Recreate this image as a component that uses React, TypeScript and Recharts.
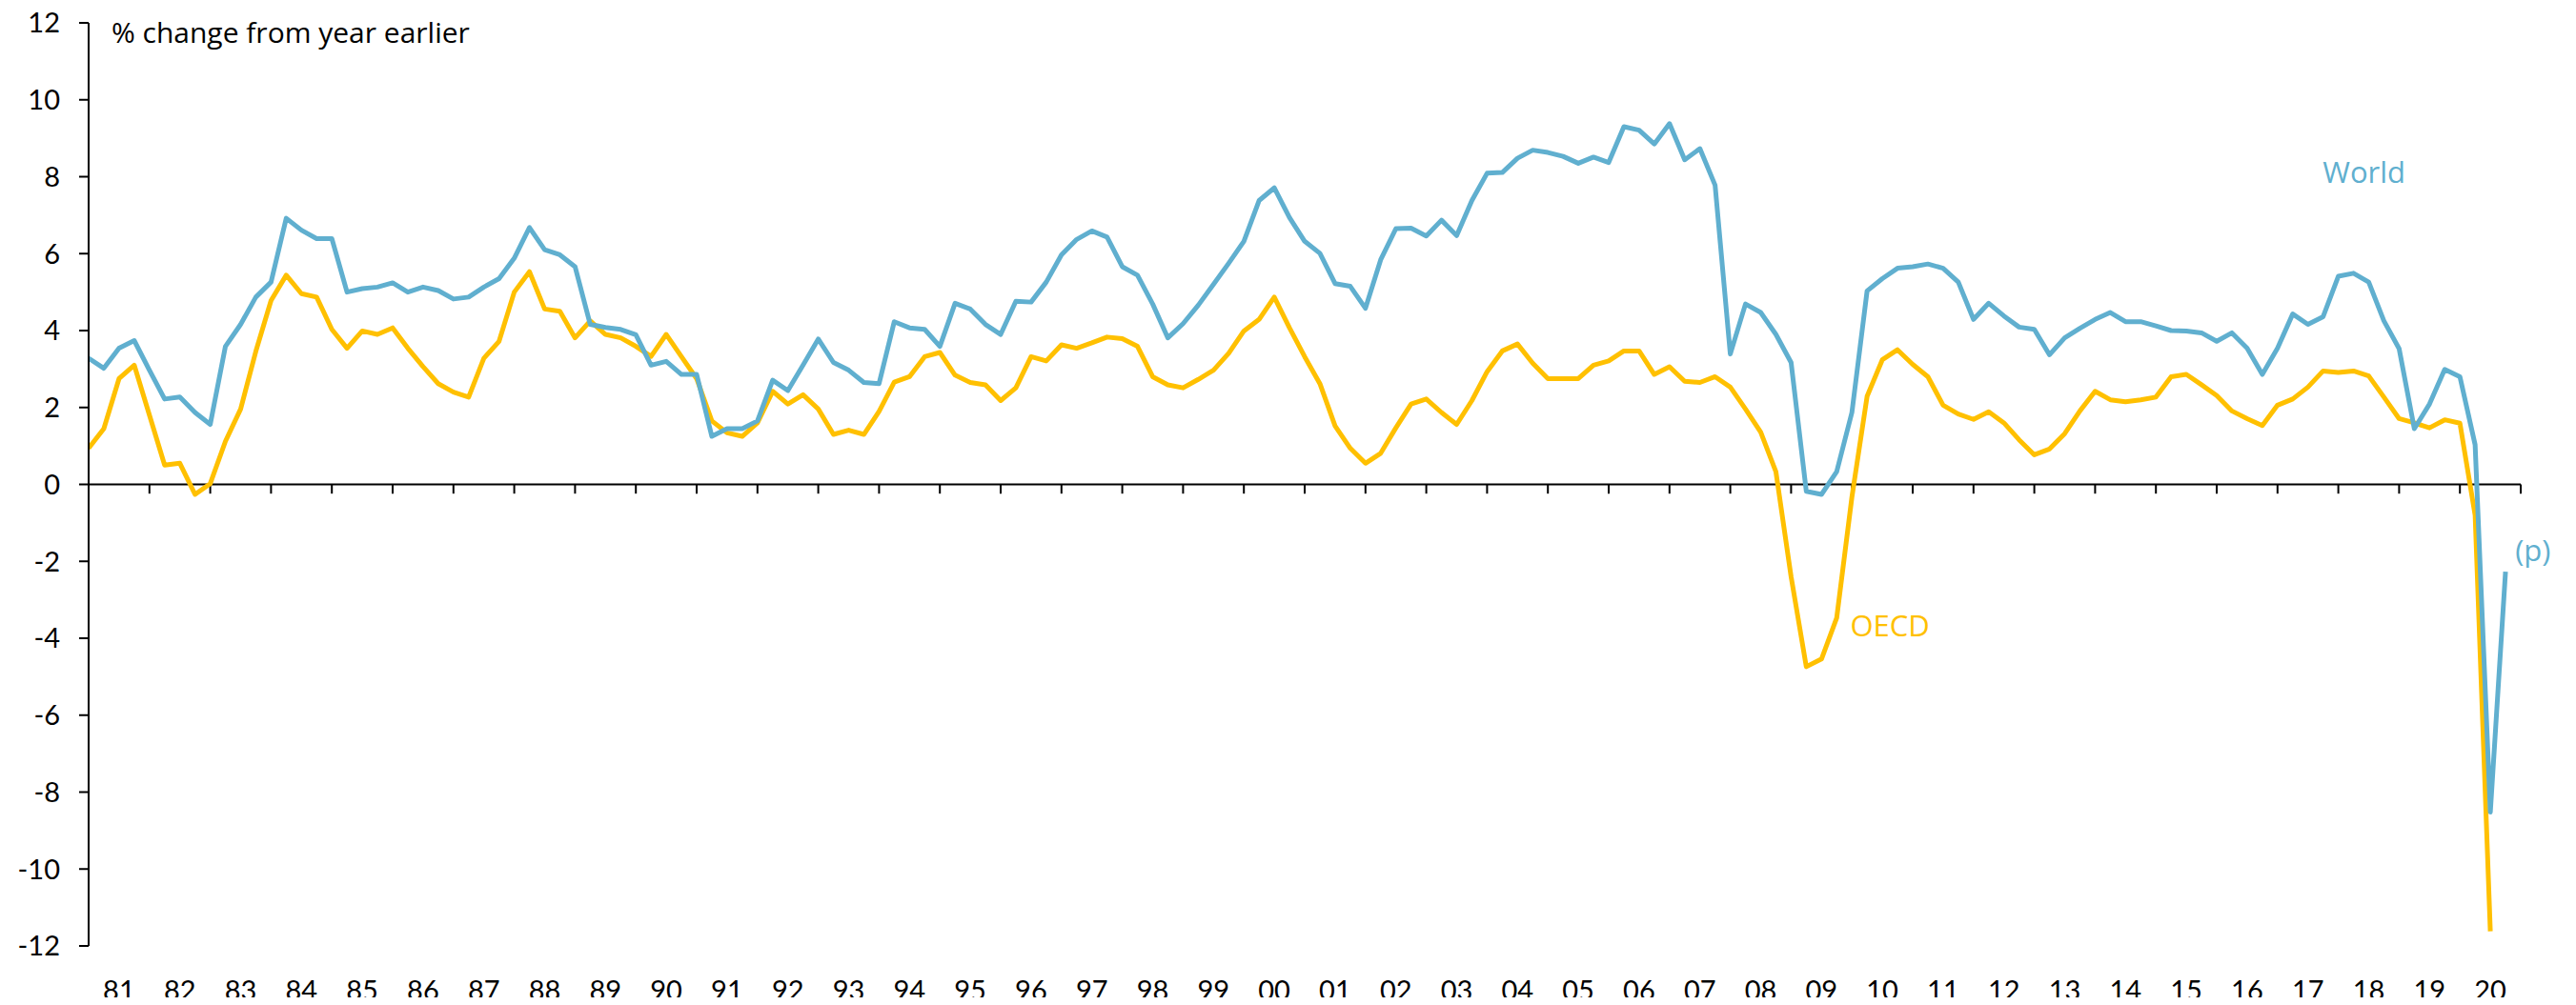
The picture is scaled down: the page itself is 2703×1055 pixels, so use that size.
import React from 'react';
import { LineChart, Line, XAxis, YAxis, ReferenceLine, ReferenceDot, Label } from 'recharts';

// Year labels (two-digit) for 1981 .. 2020
const yearLabels = [
  '81', '82', '83', '84', '85', '86', '87', '88', '89', '90',
  '91', '92', '93', '94', '95', '96', '97', '98', '99', '00',
  '01', '02', '03', '04', '05', '06', '07', '08', '09', '10',
  '11', '12', '13', '14', '15', '16', '17', '18', '19', '20',
];
const quarterNames = ['Q1', 'Q2', 'Q3', 'Q4'];

// World, % change from year earlier, quarterly from 1981Q1
const worldValues = [
  3.28, 3.02, 3.54, 3.74, 2.97, 2.22, 2.27, 1.87, 1.56, 3.59,
  4.16, 4.87, 5.26, 6.92, 6.61, 6.39, 6.39, 5.0, 5.09, 5.13,
  5.24, 5.0, 5.13, 5.04, 4.82, 4.87, 5.13, 5.35, 5.88, 6.68,
  6.1, 5.97, 5.66, 4.16, 4.08, 4.03, 3.89, 3.1, 3.2, 2.86,
  2.86, 1.25, 1.45, 1.45, 1.65, 2.71, 2.44, 3.1, 3.78, 3.17,
  2.97, 2.65, 2.62, 4.23, 4.07, 4.03, 3.59, 4.71, 4.56, 4.16,
  3.9, 4.76, 4.74, 5.26, 5.97, 6.37, 6.59, 6.43, 5.66, 5.44,
  4.69, 3.81, 4.18, 4.66, 5.2, 5.75, 6.32, 7.38, 7.71, 6.94,
  6.32, 6.01, 5.22, 5.15, 4.58, 5.84, 6.65, 6.66, 6.46, 6.87,
  6.47, 7.38, 8.09, 8.11, 8.48, 8.69, 8.63, 8.53, 8.35, 8.51,
  8.37, 9.3, 9.21, 8.85, 9.38, 8.44, 8.73, 7.78, 3.39, 4.69,
  4.47, 3.9, 3.17, -0.18, -0.26, 0.33, 1.87, 5.03, 5.35, 5.62,
  5.66, 5.73, 5.62, 5.26, 4.29, 4.71, 4.38, 4.09, 4.03, 3.37,
  3.81, 4.06, 4.29, 4.47, 4.23, 4.23, 4.12, 4.0, 3.99, 3.94,
  3.72, 3.94, 3.54, 2.86, 3.54, 4.43, 4.16, 4.36, 5.41, 5.49,
  5.26, 4.25, 3.53, 1.45, 2.09, 2.99, 2.8, 1.03, -8.52, -2.27,
];

// OECD, % change from year earlier, quarterly from 1981Q1
const oecdValues = [
  0.94, 1.45, 2.75, 3.1, 1.8, 0.5, 0.55, -0.26, 0.02, 1.12,
  1.96, 3.46, 4.78, 5.44, 4.96, 4.87, 4.03, 3.54, 3.99, 3.9,
  4.07, 3.54, 3.06, 2.62, 2.4, 2.27, 3.28, 3.72, 5.0, 5.53,
  4.56, 4.5, 3.81, 4.25, 3.9, 3.81, 3.59, 3.33, 3.9, 3.32,
  2.75, 1.65, 1.34, 1.25, 1.6, 2.42, 2.09, 2.33, 1.96, 1.3,
  1.41, 1.3, 1.9, 2.66, 2.8, 3.32, 3.43, 2.84, 2.65, 2.59,
  2.18, 2.51, 3.32, 3.21, 3.63, 3.54, 3.68, 3.83, 3.79, 3.59,
  2.8, 2.59, 2.51, 2.73, 2.97, 3.41, 3.99, 4.29, 4.87, 4.07,
  3.32, 2.62, 1.52, 0.94, 0.55, 0.81, 1.47, 2.09, 2.22, 1.87,
  1.56, 2.18, 2.93, 3.47, 3.65, 3.15, 2.75, 2.75, 2.75, 3.1,
  3.21, 3.47, 3.47, 2.86, 3.06, 2.68, 2.65, 2.8, 2.53, 1.96,
  1.36, 0.33, -2.4, -4.74, -4.54, -3.47, -0.33, 2.29, 3.24, 3.5,
  3.12, 2.8, 2.06, 1.83, 1.69, 1.89, 1.6, 1.16, 0.77, 0.92,
  1.32, 1.91, 2.42, 2.2, 2.15, 2.2, 2.27, 2.8, 2.86, 2.59,
  2.31, 1.91, 1.71, 1.53, 2.06, 2.22, 2.53, 2.95, 2.91, 2.95,
  2.82, 2.27, 1.71, 1.6, 1.47, 1.68, 1.59, -0.8, -11.62,
];

const yTicks = [-12, -10, -8, -6, -4, -2, 0, 2, 4, 6, 8, 10, 12];

const data = worldValues.map((w, i) => ({
  idx: i,
  quarter: `${yearLabels[Math.floor(i / 4)]}${quarterNames[i % 4]}`,
  world: w,
  oecd: i < oecdValues.length ? oecdValues[i] : null,
}));

const quartersPerYear = 4;
const yearBoundaries = yearLabels.map((_, k) => k * quartersPerYear).concat([yearLabels.length * quartersPerYear]);
const yearCentres = yearLabels.map((_, k) => k * quartersPerYear + quartersPerYear / 2);

const WORLD = '#60AFCF';
const OECD = '#FFC000';
const FONT = 'Lato, "Open Sans", sans-serif';
const LABEL_FONT = '"Open Sans", Lato, sans-serif';
const TICK_LEN = 0.24; // in value units

export default function App() {
  return (
    <div style={{ width: 2687, height: 1039 }}>
      <style>{'.recharts-surface{overflow:visible}'}</style>
      <LineChart
        width={2687}
        height={1039}
        data={data}
        margin={{ top: 16, right: 50, bottom: 0, left: 0 }}
      >
        <XAxis
          dataKey="idx"
          type="number"
          domain={[0, yearLabels.length * quartersPerYear]}
          ticks={yearCentres}
          tickFormatter={(v: number) => yearLabels[Math.round((v - 2) / 4)]}
          axisLine={false}
          tickLine={false}
          tickSize={0}
          tickMargin={36}
          height={54}
          interval={0}
          allowDataOverflow
          tick={{ fill: '#000', fontSize: 29, fontFamily: FONT }}
        />
        <YAxis
          domain={[-12, 12]}
          ticks={yTicks}
          interval={0}
          width={85}
          tickSize={10}
          tickMargin={20}
          allowDataOverflow
          axisLine={{ stroke: '#000', strokeWidth: 2 }}
          tickLine={{ stroke: '#000', strokeWidth: 2 }}
          tick={{ fill: '#000', fontSize: 29, fontFamily: FONT }}
        />
        <ReferenceLine y={0} stroke="#000" strokeWidth={2} />
        {yearBoundaries.map((b) => (
          <ReferenceLine
            key={`yt-${b}`}
            segment={[{ x: b, y: 0 }, { x: b, y: -TICK_LEN }]}
            stroke="#000"
            strokeWidth={2}
            ifOverflow="visible"
          />
        ))}
        <Line
          type="linear"
          dataKey="oecd"
          stroke={OECD}
          strokeWidth={5}
          dot={false}
          isAnimationActive={false}
          strokeLinejoin="round"
        />
        <Line
          type="linear"
          dataKey="world"
          stroke={WORLD}
          strokeWidth={5}
          dot={false}
          isAnimationActive={false}
          strokeLinejoin="round"
        />
        <ReferenceDot x={1.5} y={11.75} r={0} fill="none" stroke="none" ifOverflow="visible">
          <Label value="% change from year earlier" position="right" offset={0} fill="#000" fontSize={30} fontFamily={LABEL_FONT} />
        </ReferenceDot>
        <ReferenceDot x={149.7} y={8.1} r={0} fill="none" stroke="none" ifOverflow="visible">
          <Label value="World" position="center" fill={WORLD} fontSize={31} fontFamily={LABEL_FONT} />
        </ReferenceDot>
        <ReferenceDot x={118.5} y={-3.67} r={0} fill="none" stroke="none" ifOverflow="visible">
          <Label value="OECD" position="center" fill={OECD} fontSize={31} fontFamily={LABEL_FONT} />
        </ReferenceDot>
        <ReferenceDot x={160.8} y={-1.73} r={0} fill="none" stroke="none" ifOverflow="visible">
          <Label value="(p)" position="center" fill={WORLD} fontSize={31} fontFamily={LABEL_FONT} />
        </ReferenceDot>
      </LineChart>
    </div>
  );
}
